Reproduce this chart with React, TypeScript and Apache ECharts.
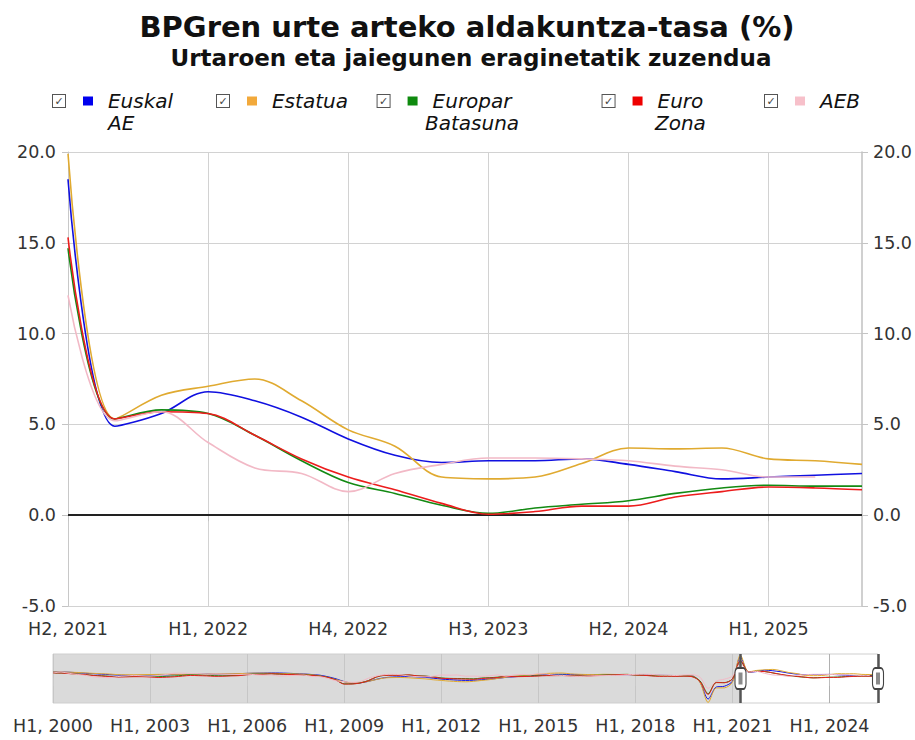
import React, { useEffect, useRef } from "react";
import * as echarts from "echarts";

// ---------- data ----------
const years = [2000, 2001, 2002, 2003, 2004, 2005, 2006, 2007, 2008, 2009, 2010, 2011, 2012, 2013, 2014, 2015, 2016, 2017, 2018, 2019, 2020, 2021, 2022, 2023, 2024, 2025];
const quarterNames = ["H1", "H2", "H3", "H4"];
const lastYearQuarters = 3; // 2025: H1..H3
const windowStartLabel = "H2, 2021";

const seriesNames = ["Euskal AE", "Estatua", "Europar Batasuna", "Euro Zona", "AEB"];
const legendLines = [["Euskal", "AE"], ["Estatua"], ["Europar", "Batasuna"], ["Euro", "Zona"], ["AEB"]];
const seriesColors = ["#1010e0", "#e0aa30", "#138a13", "#ec1c1c", "#f2b9c6"];
const legendSquareColors = ["#0000ee", "#f2a93b", "#0e8a0e", "#ee0000", "#f7c0ca"];

const euskalAE = [
  5.3, 5.2, 5.0, 4.6, 4.1, 3.7, 3.3, 2.9, 2.5, 2.3, 2.2, 2.3, 2.5, 2.6, 2.7, 2.9,
  3.0, 3.1, 3.2, 3.3, 3.5, 3.6, 3.7, 3.8, 4.0, 4.2, 4.3, 4.4, 4.3, 4.1, 3.8, 3.5,
  3.0, 2.4, 1.0, -0.8, -3.2, -4.5, -4.3, -3.0, -1.2, 0.2, 0.8, 1.0, 1.2, 0.9, 0.5, -0.2,
  -1.0, -1.5, -1.9, -2.2, -2.0, -1.6, -1.0, -0.4, 0.5, 1.0, 1.5, 2.0, 2.5, 2.9, 3.1, 3.2,
  3.1, 3.0, 2.9, 2.8, 2.8, 2.9, 2.9, 2.9, 2.8, 2.6, 2.4, 2.3, 2.2, 2.1, 2.0, 1.9,
  -3.8, -18.5, -8.0, -7.3, -2.9, 18.5, 4.9, 5.6, 6.8, 6.3, 5.4, 4.2, 3.3, 2.9, 3.0, 3.0,
  3.1, 2.8, 2.4, 2.0, 2.1, 2.2, 2.3,
];
const estatua = [
  5.3, 5.2, 5.0, 4.8, 4.4, 4.0, 3.7, 3.4, 2.9, 2.8, 2.8, 2.9, 3.0, 3.1, 3.2, 3.2,
  3.1, 3.1, 3.2, 3.3, 3.6, 3.7, 3.7, 3.8, 4.0, 4.2, 4.2, 4.1, 3.9, 3.8, 3.6, 3.3,
  2.8, 1.9, 0.4, -1.5, -3.3, -4.4, -4.1, -3.0, -1.4, 0.0, 0.3, 0.4, 0.1, -0.4, -0.8, -1.6,
  -2.2, -2.8, -3.2, -3.4, -3.0, -2.2, -1.5, -0.4, 0.6, 1.4, 1.9, 2.4, 3.3, 3.9, 4.2, 4.3,
  3.5, 3.2, 3.0, 2.9, 3.2, 3.1, 3.0, 3.1, 2.6, 2.4, 2.3, 2.2, 2.1, 2.0, 1.9, 1.8,
  -4.2, -21.5, -8.8, -8.7, -3.8, 19.9, 5.3, 6.6, 7.1, 7.5, 6.3, 4.7, 3.8, 2.1, 2.0, 2.1,
  2.85, 3.7, 3.65, 3.7, 3.1, 3.0, 2.8,
];
const europarBatasuna = [
  4.2, 4.3, 3.9, 3.5, 2.9, 2.2, 1.9, 1.4, 1.1, 1.3, 1.5, 1.6, 1.4, 1.1, 1.4, 1.7,
  2.2, 2.7, 2.5, 2.4, 2.0, 1.9, 2.1, 2.3, 3.0, 3.3, 3.4, 3.6, 3.4, 3.1, 3.1, 2.8,
  2.3, 1.6, 0.5, -1.8, -5.2, -5.2, -4.3, -2.3, 0.8, 2.3, 2.4, 2.4, 2.5, 1.8, 1.6, 1.0,
  0.0, -0.4, -0.5, -0.6, -0.8, -0.1, 0.2, 0.7, 1.4, 1.4, 1.5, 1.7, 2.0, 2.3, 2.3, 2.4,
  2.0, 2.0, 1.9, 2.2, 2.4, 2.7, 3.0, 3.1, 2.7, 2.4, 2.0, 1.7, 1.7, 1.6, 1.7, 1.3,
  -2.6, -13.8, -3.9, -4.1, -0.8, 14.7, 5.3, 5.8, 5.6, 4.4, 3.0, 1.8, 1.2, 0.55, 0.1, 0.4,
  0.6, 0.8, 1.2, 1.5, 1.65, 1.6, 1.6,
];
const euroZona = [
  4.3, 4.3, 3.8, 3.3, 2.9, 2.1, 1.7, 1.2, 0.8, 0.9, 1.1, 1.1, 0.8, 0.4, 0.6, 1.0,
  1.6, 2.2, 2.0, 1.8, 1.4, 1.5, 1.8, 2.0, 2.8, 3.1, 3.2, 3.6, 3.4, 3.0, 2.9, 2.6,
  2.2, 1.5, 0.4, -1.9, -5.4, -5.3, -4.4, -2.4, 0.9, 2.3, 2.3, 2.3, 2.7, 1.8, 1.5, 0.8,
  -0.3, -0.6, -0.8, -1.0, -1.2, -0.5, -0.1, 0.4, 1.3, 1.1, 1.2, 1.4, 1.7, 2.0, 2.0, 2.1,
  1.8, 1.8, 1.7, 2.0, 2.2, 2.6, 2.9, 3.0, 2.6, 2.3, 1.8, 1.4, 1.5, 1.4, 1.6, 1.1,
  -3.1, -14.5, -4.1, -4.2, -0.9, 15.3, 5.3, 5.7, 5.6, 4.4, 3.1, 2.1, 1.4, 0.65, 0.05, 0.2,
  0.5, 0.5, 1.0, 1.3, 1.55, 1.5, 1.4,
];
const aeb = [
  4.2, 5.2, 4.0, 3.0, 2.3, 1.0, 0.5, 0.2, 1.2, 1.7, 2.2, 1.9, 1.6, 2.1, 3.0, 4.2,
  4.2, 3.8, 3.7, 3.2, 3.6, 3.4, 3.2, 3.0, 3.3, 2.8, 2.4, 2.6, 1.6, 1.9, 2.3, 2.5,
  1.3, 1.1, -0.5, -2.5, -3.3, -3.9, -3.2, -0.2, 1.7, 2.9, 3.2, 2.8, 1.6, 1.2, 0.9, 1.5,
  2.6, 2.4, 2.6, 1.5, 1.6, 1.3, 1.9, 2.6, 1.5, 2.6, 3.1, 2.7, 3.8, 3.4, 2.4, 2.2,
  1.6, 1.3, 1.6, 1.9, 2.0, 2.2, 2.3, 2.8, 3.1, 3.3, 3.1, 2.5, 2.4, 2.1, 2.6, 2.8,
  0.6, -9.1, -2.8, -1.1, 1.6, 12.1, 5.2, 5.7, 4.0, 2.6, 2.3, 1.3, 2.3, 2.8, 3.15, 3.15,
  3.1, 3.0, 2.7, 2.5, 2.1, 2.1, null,
];
const seriesData = [euskalAE, estatua, europarBatasuna, euroZona, aeb];

const yTicks = { min: -5, max: 20, interval: 5 };
const navRange = { min: -22, max: 21 };

// category labels
const categories: string[] = [];
years.forEach((y, yi) => {
  const n = yi === years.length - 1 ? lastYearQuarters : 4;
  for (let q = 0; q < n; q++) categories.push(`${quarterNames[q]}, ${y}`);
});
const startIdx = categories.indexOf(windowStartLabel);
const endIdx = categories.length - 1;
const mainCategories = categories.slice(startIdx);

const FONT = "DejaVu Sans";
const legendLeft = [53, 217, 370, 600, 765];

export default function App() {
  const ref = useRef<HTMLDivElement>(null);

  useEffect(() => {
    document.body.style.margin = "0";
    if (!ref.current) return;
    const chart = echarts.init(ref.current, undefined, { renderer: "svg" });

    const labelStyle = { fontFamily: FONT, fontSize: 17.5, color: "#333" };

    const legends = seriesNames.map((name, i) => {
      const rich: any = {
        cb: {
          width: 12, height: 12, lineHeight: 12, borderColor: "#555", borderWidth: 1,
          backgroundColor: "#fff", align: "center", verticalAlign: "middle",
          fontSize: 11, color: "#444", fontFamily: FONT, fontStyle: "normal",
        },
        g1: { width: 18, height: 10 },
        sq: { width: 10, height: 9, backgroundColor: legendSquareColors[i], verticalAlign: "middle" },
        g2: { width: 15, height: 10 },
        pad: { width: 55, height: 10 },
        t: { fontFamily: FONT, fontSize: 20, fontStyle: "italic", color: "#111", lineHeight: 22, verticalAlign: "middle" },
      };
      const lines = legendLines[i];
      const text = [`{cb|✓}{g1|}{sq|}{g2|}{t|${lines[0]}}`, ...lines.slice(1).map((l) => `{pad|}{t|${l}}`)].join("\n");
      return {
        data: [name],
        left: legendLeft[i] - 5,
        top: 91,
        padding: 0,
        icon: "none",
        itemWidth: 0,
        itemHeight: 0,
        formatter: () => text,
        textStyle: { rich },
      };
    });

    const mainSeries = seriesNames.map((name, i) => ({
      name,
      type: "line",
      xAxisIndex: 0,
      yAxisIndex: 0,
      data: seriesData[i].slice(startIdx),
      smooth: 0.35,
      showSymbol: false,
      lineStyle: { width: 1.6, color: seriesColors[i] },
      itemStyle: { color: seriesColors[i] },
      z: 3,
      ...(i === 0
        ? {
            markLine: {
              silent: true,
              symbol: ["none", "none"],
              label: { show: false },
              lineStyle: { color: "#222", width: 2, type: "solid" },
              data: [{ yAxis: 0 }],
              z: 2,
            },
          }
        : {}),
    }));

    const navSeries = seriesNames.map((name, i) => ({
      name,
      type: "line",
      xAxisIndex: 1,
      yAxisIndex: 2,
      data: seriesData[i],
      smooth: 0.3,
      showSymbol: false,
      lineStyle: { width: 1, color: seriesColors[i] },
      itemStyle: { color: seriesColors[i] },
      silent: true,
      z: 2,
    }));

    const mid = (navRange.min + navRange.max) / 2;
    const navDecor = {
      name: "navigator",
      type: "line",
      xAxisIndex: 1,
      yAxisIndex: 2,
      data: [],
      silent: true,
      z: 5,
      markArea: {
        silent: true,
        itemStyle: { color: "rgba(205,205,205,0.75)" },
        data: [[{ xAxis: categories[0] }, { xAxis: categories[startIdx] }]],
      },
      markLine: {
        silent: true,
        symbol: ["none", "none"],
        label: { show: false },
        lineStyle: { color: "#555", width: 2.5, type: "solid" },
        data: [{ xAxis: categories[startIdx] }, { xAxis: categories[endIdx] }],
      },
      markPoint: {
        silent: true,
        label: { show: false },
        data: [
          { coord: [categories[startIdx], mid], symbol: "roundRect", symbolSize: [11, 21], itemStyle: { color: "#fff", borderColor: "#444", borderWidth: 1.5 } },
          { coord: [categories[endIdx], mid], symbol: "roundRect", symbolSize: [11, 21], itemStyle: { color: "#fff", borderColor: "#444", borderWidth: 1.5 } },
          { coord: [categories[startIdx], mid], symbol: "rect", symbolSize: [4, 12], itemStyle: { color: "#8a8a8a" } },
          { coord: [categories[endIdx], mid], symbol: "rect", symbolSize: [4, 12], itemStyle: { color: "#8a8a8a" } },
        ],
      },
    };

    const valueAxisBase = {
      type: "value",
      gridIndex: 0,
      min: yTicks.min,
      max: yTicks.max,
      interval: yTicks.interval,
      axisLabel: { ...labelStyle, formatter: (v: number) => v.toFixed(1) },
      axisTick: { show: true, length: 6, lineStyle: { color: "#c4c4c4" } },
    };

    chart.setOption({
      animation: false,
      backgroundColor: "#fff",
      title: [
        {
          text: "BPGren urte arteko aldakuntza-tasa (%)",
          left: 467,
          top: 12,
          padding: 0,
          textAlign: "center",
          textStyle: { fontFamily: FONT, fontWeight: "bold", fontSize: 29, color: "#111" },
        },
        {
          text: "Urtaroen eta jaiegunen eraginetatik zuzendua",
          left: 471,
          top: 46,
          padding: 0,
          textAlign: "center",
          textStyle: { fontFamily: FONT, fontWeight: "bold", fontSize: 23, color: "#111" },
        },
      ],
      legend: legends,
      grid: [
        { left: 68, right: 53, top: 152, bottom: 134, containLabel: false },
        { left: 53, right: 37, top: 654, bottom: 37, show: true, borderColor: "#cfcfcf", borderWidth: 1, backgroundColor: "#fff" },
      ],
      xAxis: [
        {
          type: "category",
          gridIndex: 0,
          data: mainCategories,
          boundaryGap: false,
          axisLine: { show: true, lineStyle: { color: "#c8c8c8" } },
          axisTick: { show: true, interval: 2, length: 6, lineStyle: { color: "#c4c4c4" } },
          axisLabel: { ...labelStyle, interval: 2, margin: 14 },
          splitLine: { show: true, interval: 2, lineStyle: { color: "#d2d2d2" } },
        },
        {
          type: "category",
          gridIndex: 1,
          data: categories,
          boundaryGap: false,
          axisLine: { show: false },
          axisTick: { show: true, interval: 11, length: 8, lineStyle: { color: "#bdbdbd" } },
          axisLabel: { ...labelStyle, interval: 11, margin: 14 },
          splitLine: { show: true, interval: 11, lineStyle: { color: "#b0b0b0" } },
        },
      ],
      yAxis: [
        {
          ...valueAxisBase,
          position: "left",
          axisLine: { show: true, lineStyle: { color: "#c8c8c8" } },
          axisLabel: { ...valueAxisBase.axisLabel, margin: 12 },
          splitLine: { show: true, lineStyle: { color: "#d2d2d2" } },
        },
        {
          ...valueAxisBase,
          position: "right",
          axisLine: { show: true, lineStyle: { color: "#c0c0c0", width: 1.5 } },
          axisLabel: { ...valueAxisBase.axisLabel, margin: 11 },
          splitLine: { show: false },
        },
        {
          type: "value",
          gridIndex: 1,
          min: navRange.min,
          max: navRange.max,
          show: false,
        },
      ],
      series: [...mainSeries, ...navSeries, navDecor],
    });

    return () => chart.dispose();
  }, []);

  return <div ref={ref} style={{ width: 915, height: 740 }} />;
}
